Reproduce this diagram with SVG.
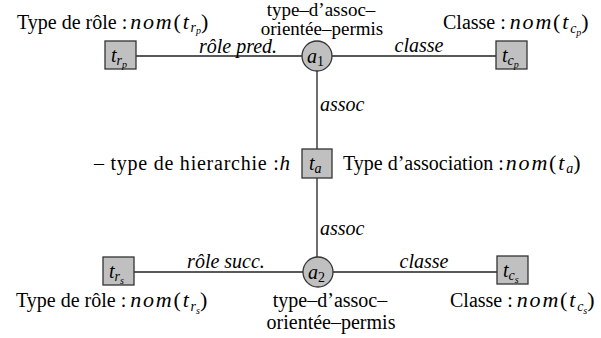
<svg xmlns="http://www.w3.org/2000/svg" width="601" height="338" viewBox="0 0 601 338">
  <style>
    text { font-family: "Liberation Serif", "Times New Roman", serif; font-size: 20px; fill: #000; }
    .m { font-style: italic; }
    .it { font-style: italic; }
    .mx { font-size: 22px; letter-spacing: 1.8px; }
    .sub { font-size: 14px; font-style: italic; letter-spacing: 0; }
    .sub2 { font-size: 10px; font-style: italic; letter-spacing: 0; }
    .box { fill: #c0c0c0; stroke: #333; stroke-width: 1.3; }
    .circ { fill: #c0c0c0; stroke: #333; stroke-width: 1.3; }
    .edge { stroke: #222; stroke-width: 1.3; fill: none; }
    .mid { text-anchor: middle; }
    .two { font-size: 19px; }
  </style>

  <!-- connectors -->
  <g id="connectors">
    <line class="edge" x1="136" y1="56" x2="302" y2="56"/>
    <line class="edge" x1="332" y1="56" x2="496" y2="56"/>
    <line class="edge" x1="317" y1="71" x2="317" y2="149"/>
    <line class="edge" x1="317" y1="178" x2="317" y2="257"/>
    <line class="edge" x1="134" y1="272" x2="303" y2="272"/>
    <line class="edge" x1="333" y1="272" x2="497" y2="272"/>
    <text class="it mid" x="238" y="53">rôle pred.</text>
    <text class="it mid" x="419" y="52">classe</text>
    <text class="it" x="320" y="111">assoc</text>
    <text class="it" x="320" y="235">assoc</text>
    <text class="it mid" x="226" y="268">rôle succ.</text>
    <text class="it mid" x="424" y="268">classe</text>
  </g>

  <!-- predecessor role type -->
  <g id="t_rp">
    <rect class="box" x="105" y="41" width="31" height="28"/>
    <text x="111" y="62"><tspan class="m">t</tspan><tspan class="sub" dy="3">r</tspan><tspan class="sub2" dy="3">p</tspan></text>
    <text x="17" y="29">Type de rôle :<tspan class="mx" dx="3"><tspan class="m">nom</tspan>(<tspan class="m">t</tspan><tspan class="sub" dy="3">r</tspan><tspan class="sub2" dy="2">p</tspan><tspan dy="-5">)</tspan></tspan></text>
  </g>

  <!-- association a1 -->
  <g id="a1">
    <circle class="circ" cx="317" cy="56" r="15"/>
    <text x="307" y="63"><tspan class="m">a</tspan><tspan font-size="14" dy="3">1</tspan></text>
    <text class="mid two" x="321" y="16">type–d’assoc–</text>
    <text class="mid two" x="322" y="35">orientée–permis</text>
  </g>

  <!-- predecessor class -->
  <g id="t_cp">
    <rect class="box" x="496" y="41" width="31" height="28"/>
    <text x="502" y="62"><tspan class="m">t</tspan><tspan class="sub" dy="3">c</tspan><tspan class="sub2" dy="3">p</tspan></text>
    <text x="443" y="29">Classe :<tspan class="mx" dx="4"><tspan class="m">nom</tspan>(<tspan class="m">t</tspan><tspan class="sub" dy="4">c</tspan><tspan class="sub2" dy="3">p</tspan><tspan dy="-7">)</tspan></tspan></text>
  </g>

  <!-- association type -->
  <g id="t_a">
    <rect class="box" x="302" y="149" width="30" height="29"/>
    <text x="309" y="170"><tspan class="m">t</tspan><tspan class="sub" dy="3">a</tspan></text>
    <text x="94" y="170" textLength="196" lengthAdjust="spacing">– type de hierarchie :<tspan class="m" font-size="21">h</tspan></text>
    <text x="343" y="170">Type d’association :<tspan class="mx" dx="2"><tspan class="m">nom</tspan>(<tspan class="m">t</tspan><tspan class="sub" dy="3">a</tspan><tspan dy="-3">)</tspan></tspan></text>
  </g>

  <!-- successor role type -->
  <g id="t_rs">
    <rect class="box" x="103" y="257" width="31" height="28"/>
    <text x="109" y="278"><tspan class="m">t</tspan><tspan class="sub" dy="3">r</tspan><tspan class="sub2" dy="3">s</tspan></text>
    <text x="16" y="307">Type de rôle :<tspan class="mx" dx="4"><tspan class="m">nom</tspan>(<tspan class="m">t</tspan><tspan class="sub" dy="4">r</tspan><tspan class="sub2" dy="3">s</tspan><tspan dy="-7">)</tspan></tspan></text>
  </g>

  <!-- association a2 -->
  <g id="a2">
    <circle class="circ" cx="318" cy="272" r="15"/>
    <text x="308" y="279"><tspan class="m">a</tspan><tspan font-size="14" dy="3">2</tspan></text>
    <text class="mid" x="330" y="307">type–d’assoc–</text>
    <text class="mid" x="331" y="329">orientée–permis</text>
  </g>

  <!-- successor class -->
  <g id="t_cs">
    <rect class="box" x="497" y="256" width="31" height="28"/>
    <text x="503" y="277"><tspan class="m">t</tspan><tspan class="sub" dy="3">c</tspan><tspan class="sub2" dy="3">s</tspan></text>
    <text x="450" y="307">Classe :<tspan class="mx" dx="4"><tspan class="m">nom</tspan>(<tspan class="m">t</tspan><tspan class="sub" dy="4">c</tspan><tspan class="sub2" dy="3">s</tspan><tspan dy="-7">)</tspan></tspan></text>
  </g>
</svg>
